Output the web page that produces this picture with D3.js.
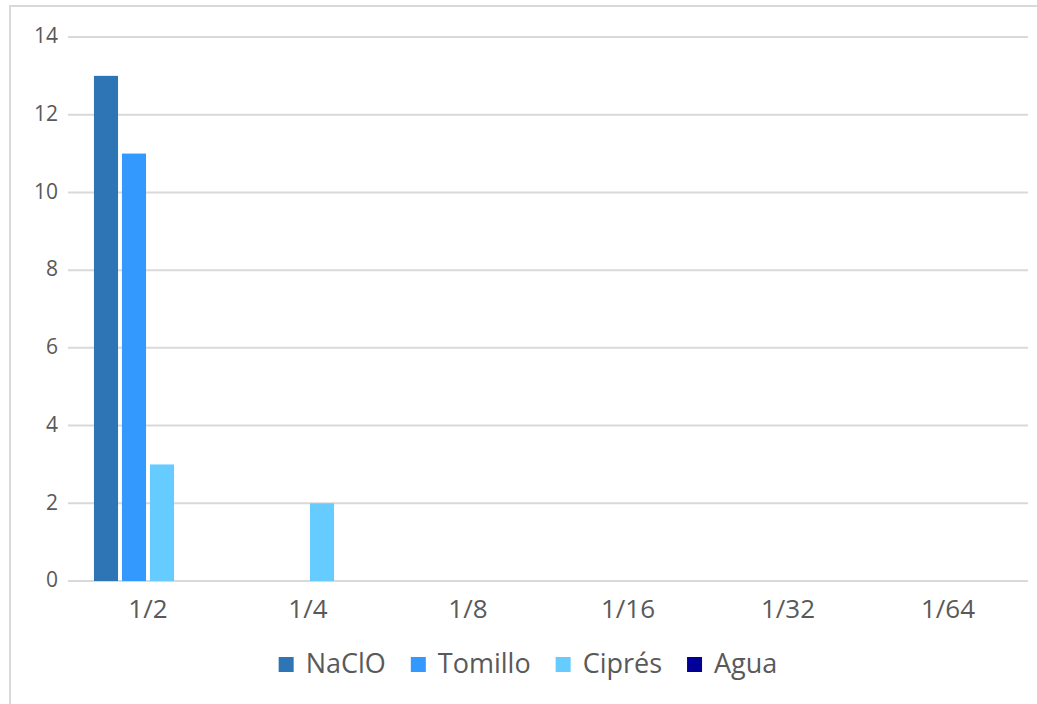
<!DOCTYPE html>
<html>
<head>
<meta charset="utf-8">
<script src="https://cdn.jsdelivr.net/npm/d3@7"></script>
<style>
  html, body { margin: 0; padding: 0; background: #ffffff; overflow: hidden; }
  svg { display: block; }
  text { font-family: "Open Sans", "Noto Sans", sans-serif; fill: #595959; }
</style>
</head>
<body>
<svg id="chart" width="1037" height="704"></svg>
<script>
// Dilution categories and tick values
const categories = ["1/2", "1/4", "1/8", "1/16", "1/32", "1/64"];
const yTicks = [0, 2, 4, 6, 8, 10, 12, 14];

// Series values, one per dilution
const seriesNames = ["NaClO", "Tomillo", "Ciprés", "Agua"];
const naclo   = [13, 0, 0, 0, 0, 0];
const tomillo = [11, 0, 0, 0, 0, 0];
const cipres  = [3, 2, 0, 0, 0, 0];
const agua    = [0, 0, 0, 0, 0, 0];
const seriesColors = ["#2E75B6", "#3399FF", "#66CCFF", "#000099"];

const seriesValues = [naclo, tomillo, cipres, agua];
const rows = categories.map((c, i) => ({
  cat: c,
  values: seriesNames.map((s, j) => ({ series: s, value: seriesValues[j][i] }))
}));

const svg = d3.select("#chart");

// Chart area frame
svg.append("rect")
  .attr("x", 10).attr("y", 6)
  .attr("width", 1100).attr("height", 800)
  .attr("fill", "none")
  .attr("stroke", "#d9d9d9")
  .attr("stroke-width", 2);

const plot = { left: 68, right: 1028, top: 37, bottom: 581 };

const x = d3.scaleBand()
  .domain(categories)
  .range([plot.left, plot.right])
  .paddingInner(0)
  .paddingOuter(0);

const groupWidth = 112;
const xs = d3.scaleBand()
  .domain(seriesNames)
  .range([0, groupWidth])
  .paddingInner(0.14)
  .paddingOuter(0.07);

const y = d3.scaleLinear()
  .domain([0, 14])
  .range([plot.bottom, plot.top]);

// Horizontal gridlines
svg.append("g")
  .selectAll("line")
  .data(yTicks)
  .join("line")
  .attr("x1", plot.left).attr("x2", plot.right)
  .attr("y1", d => y(d)).attr("y2", d => y(d))
  .attr("stroke", "#d9d9d9")
  .attr("stroke-width", 2);

// Y tick labels
svg.append("g")
  .selectAll("text")
  .data(yTicks)
  .join("text")
  .attr("x", 58)
  .attr("y", d => y(d) - 1)
  .attr("dy", "0.35em")
  .attr("text-anchor", "end")
  .attr("font-size", 21)
  .text(d => d);

// Bars
const groups = svg.append("g")
  .selectAll("g")
  .data(rows)
  .join("g")
  .attr("transform", d => `translate(${x(d.cat) + (x.bandwidth() - groupWidth) / 2},0)`);

groups.selectAll("rect")
  .data(d => d.values)
  .join("rect")
  .attr("x", d => xs(d.series))
  .attr("width", xs.bandwidth())
  .attr("y", d => y(d.value))
  .attr("height", d => y(0) - y(d.value))
  .attr("fill", (d, i) => seriesColors[i]);

// X category labels
svg.append("g")
  .selectAll("text")
  .data(categories)
  .join("text")
  .attr("x", d => x(d) + x.bandwidth() / 2)
  .attr("y", 618)
  .attr("text-anchor", "middle")
  .attr("font-size", 26)
  .text(d => d);

// Legend, centred under the plot
const legend = svg.append("g");
const items = legend.selectAll("g")
  .data(seriesNames)
  .join("g");
items.append("rect")
  .attr("width", 15).attr("height", 15)
  .attr("y", -6)
  .attr("fill", (d, i) => seriesColors[i]);
items.append("text")
  .attr("x", 27)
  .attr("y", 1)
  .attr("dy", "0.35em")
  .attr("font-size", 27)
  .text(d => d);

let offset = 0;
const gap = 25;
items.each(function() {
  const w = 27 + this.querySelector("text").getComputedTextLength();
  d3.select(this).attr("transform", `translate(${offset},0)`);
  offset += w + gap;
});
const total = offset - gap;
legend.attr("transform", `translate(${528 - total / 2},663)`);
</script>
</body>
</html>
